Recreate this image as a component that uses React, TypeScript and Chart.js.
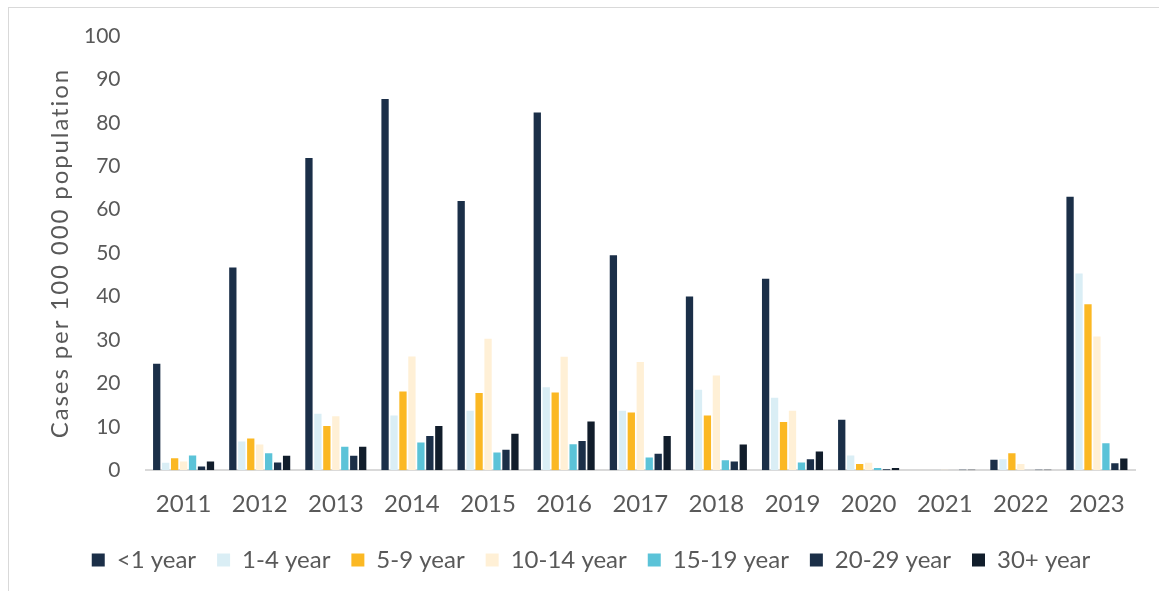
import React, { useEffect, useRef } from "react";
import { Chart, registerables } from "chart.js";

Chart.register(...registerables);

const years = ["2011", "2012", "2013", "2014", "2015", "2016", "2017", "2018", "2019", "2020", "2021", "2022", "2023"];
const seriesNames = ["<1 year", "1-4 year", "5-9 year", "10-14 year", "15-19 year", "20-29 year", "30+ year"];
const under1 = [24.5, 46.7, 71.9, 85.5, 62.0, 82.4, 49.5, 40.0, 44.1, 11.6, 0, 2.4, 63.0];
const age1to4 = [1.7, 6.6, 13.0, 12.6, 13.7, 19.1, 13.7, 18.5, 16.7, 3.4, 0, 2.5, 45.3];
const age5to9 = [2.75, 7.3, 10.2, 18.1, 17.8, 17.9, 13.3, 12.6, 11.1, 1.4, 0, 3.9, 38.2];
const age10to14 = [2.0, 5.9, 12.4, 26.2, 30.3, 26.1, 24.9, 21.8, 13.7, 1.7, 0.1, 1.4, 30.8];
const age15to19 = [3.4, 3.9, 5.4, 6.4, 4.1, 6.0, 2.9, 2.3, 1.8, 0.5, 0, 0, 6.2];
const age20to29 = [0.85, 1.8, 3.3, 7.9, 4.7, 6.7, 3.8, 2.0, 2.5, 0.2, 0.1, 0.1, 1.6];
const age30plus = [2.0, 3.3, 5.4, 10.2, 8.4, 11.2, 7.9, 5.9, 4.3, 0.5, 0.1, 0.1, 2.7];
const yTicks = [0, 10, 20, 30, 40, 50, 60, 70, 80, 90, 100];
const yTitle = "Cases per 100 000 population";

const seriesValues = [under1, age1to4, age5to9, age10to14, age15to19, age20to29, age30plus];
const seriesColors = ["#1b2f48", "#daeef5", "#fbb823", "#fff0d6", "#5bc3d8", "#1b2f48", "#111d2b"];

const FONT = "Lato, 'Open Sans', sans-serif";
const TEXT = "#595959";

// Draws the rotated y-axis title, centred on the plot area, at the left edge of the y scale.
const yTitlePlugin = {
  id: "yTitleSpaced",
  afterLayout(chart: any) {
    // pull the legend a little closer to the category labels
    if (chart.legend) {
      chart.legend.top -= 12;
      chart.legend.bottom -= 12;
      chart.legend.left -= 6;
      chart.legend.right -= 6;
    }
  },
  afterDraw(chart: any) {
    const { ctx, chartArea, scales } = chart;
    const x = scales.y.left + 1;
    const y = (chartArea.top + chartArea.bottom) / 2;
    ctx.save();
    ctx.translate(x, y);
    ctx.rotate(-Math.PI / 2);
    ctx.font = `24px ${FONT}`;
    (ctx as any).letterSpacing = "1.9px";
    ctx.fillStyle = TEXT;
    ctx.textAlign = "center";
    ctx.textBaseline = "middle";
    ctx.fillText(yTitle, 0, 0);
    ctx.restore();
  },
};

export default function App() {
  const ref = useRef<HTMLCanvasElement | null>(null);
  useEffect(() => {
    if (!ref.current) return;
    const chart = new Chart(ref.current, {
      type: "bar",
      data: {
        labels: years,
        datasets: seriesNames.map((name, i) => ({
          label: name,
          data: seriesValues[i],
          backgroundColor: seriesColors[i],
          borderWidth: 0,
          categoryPercentage: 0.824,
          barPercentage: 0.815,
        })),
      },
      plugins: [yTitlePlugin],
      options: {
        animation: false,
        responsive: true,
        maintainAspectRatio: false,
        layout: { padding: { left: 50, right: 32, top: 28, bottom: 12 } },
        plugins: {
          legend: {
            position: "bottom",
            labels: {
              color: TEXT,
              font: { family: FONT, size: 24 },
              boxWidth: 13,
              boxHeight: 13,
              padding: 21,
            },
          },
          tooltip: { enabled: false },
        },
        scales: {
          x: {
            grid: { display: false, drawTicks: false },
            border: { display: true, color: "#d9d9d9", width: 2 },
            ticks: { color: TEXT, font: { family: FONT, size: 24 }, padding: 20 },
          },
          y: {
            min: 0,
            max: 100,
            afterBuildTicks: (axis: any) => {
              axis.ticks = yTicks.map((v) => ({ value: v }));
            },
            afterFit: (scale: any) => {
              scale.paddingTop = 0;
              scale.paddingBottom = 0;
            },
            grid: { display: false, drawTicks: false },
            border: { display: false },
            ticks: { color: TEXT, font: { family: FONT, size: 21 }, padding: 25 },
          },
        },
      },
    });
    return () => chart.destroy();
  }, []);
  return (
    <div
      style={{
        position: "fixed",
        left: 8,
        top: 7,
        width: 1160,
        height: 600,
        border: "1px solid #d9d9d9",
        boxSizing: "border-box",
        background: "#fff",
      }}
    >
      <canvas ref={ref} />
    </div>
  );
}
